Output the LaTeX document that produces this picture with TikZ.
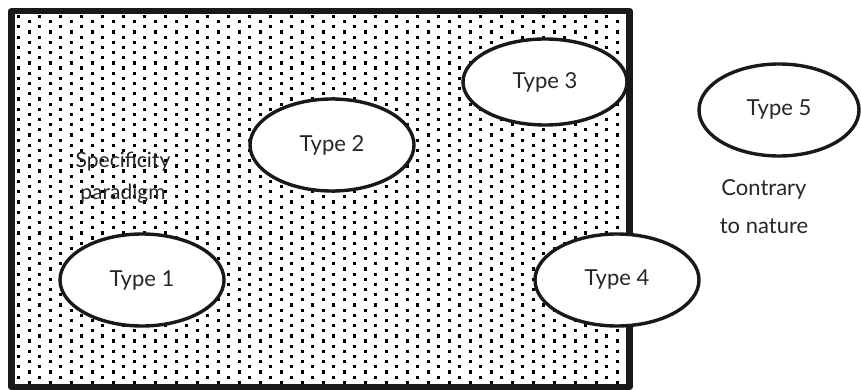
\documentclass[tikz,border=0pt]{standalone}
\usepackage{fontspec}
\setmainfont{Lato}
\usetikzlibrary{shapes.geometric}
\begin{document}
\begin{tikzpicture}[x=1pt,y=-1pt, line join=round,
	typeoval/.style={ellipse, draw=black!90, line width=3.4pt, fill=white, minimum width=164pt, minimum height=92pt, inner sep=0pt, font=\fontsize{22}{26}\selectfont, text=black!85},
	plaintext/.style={align=center, font=\fontsize{22}{38}\selectfont, text=black!85}]
	\def\xmin{15} \def\xmax{626} % inner frame
	\def\ymin{14} \def\ymax{384}
	\useasboundingbox (0,0) rectangle (861,390);
	% dotted field
	\begin{scope}
		\clip (\xmin,\ymin) rectangle (\xmax,\ymax);
		\foreach \i in {0,...,58}{
			\foreach \j in {0,...,36}{
				\fill (17+10.5*\i,{15+10.3*\j+5.15*mod(\i,2)}) rectangle ++(3.2,3.2);
			}
		}
	\end{scope}
	\draw[line width=6.5pt, black!90] (11.5,11) rectangle (629.5,387);
	\node[plaintext, font=\fontsize{21}{32}\selectfont] (spec) at (123,178) {Specificity\\paradigm};
	\node[plaintext] (contra) at (764,207) {Contrary\\to nature};
	\node[typeoval] (t1) at (142,280) {Type 1};
	\node[typeoval] (t2) at (332,145) {Type 2};
	\node[typeoval, minimum height=86pt] (t3) at (545,82) {Type 3};
	\node[typeoval] (t4) at (617,280) {Type 4};
	\node[typeoval, minimum width=160pt] (t5) at (779,110) {Type 5};
\end{tikzpicture}
\end{document}
